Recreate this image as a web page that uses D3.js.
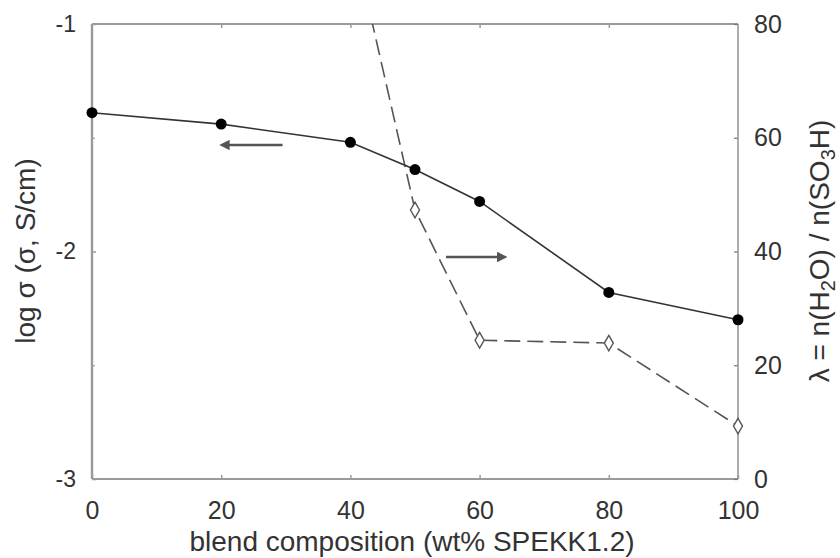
<!DOCTYPE html>
<html><head><meta charset="utf-8">
<script src="https://cdn.jsdelivr.net/npm/d3@7"></script>
<style>
html,body{margin:0;padding:0;background:#fff;}
text{font-family:"Liberation Sans",Arial,sans-serif;fill:#333;}
</style></head>
<body>
<script>
// Data
const composition = [0, 20, 40, 50, 60, 80, 100];
const logSigma = [-1.39, -1.44, -1.52, -1.64, -1.78, -2.18, -2.30];
const lambdaComposition = [40, 50, 60, 80, 100];
const lambdaValues = [97, 47.3, 24.4, 23.9, 9.3];
const xTicks = [0, 20, 40, 60, 80, 100];
const leftTicks = [-1, -2, -3];
const leftMinor = [-1.5, -2.5];
const rightTicks = [0, 20, 40, 60, 80];

const W = 840, H = 558;
const svg = d3.select("body").append("svg").attr("width", W).attr("height", H);

const x = d3.scaleLinear().domain([0, 100]).range([92, 738]);
const yL = d3.scaleLinear().domain([-3, -1]).range([479, 24]);
const yR = d3.scaleLinear().domain([0, 80]).range([479, 24]);

svg.append("defs").append("clipPath").attr("id", "clip")
  .append("rect").attr("x", x(0)).attr("y", yL(-1)).attr("width", x(100) - x(0)).attr("height", yL(-3) - yL(-1));

const axisCol = "#9a9a9a";
// frame
svg.append("line").attr("x1", x(0)).attr("x2", x(100)).attr("y1", yL(-1)).attr("y2", yL(-1)).attr("stroke", axisCol).attr("stroke-width", 2.2);
svg.append("line").attr("x1", x(0)).attr("x2", x(100)).attr("y1", yL(-3)).attr("y2", yL(-3)).attr("stroke", axisCol).attr("stroke-width", 2.2);
svg.append("line").attr("x1", x(0)).attr("x2", x(0)).attr("y1", yL(-1)).attr("y2", yL(-3)).attr("stroke", axisCol).attr("stroke-width", 2.4);
svg.append("line").attr("x1", x(100)).attr("x2", x(100)).attr("y1", yL(-1)).attr("y2", yL(-3)).attr("stroke", "#777").attr("stroke-width", 1.2);

// axes with d3 (inward ticks)
const fs = "25px";
const gB = svg.append("g").attr("transform", `translate(0,${yL(-3)})`)
  .call(d3.axisBottom(x).tickValues(xTicks).tickSize(-4).tickPadding(22).tickFormat(d3.format("d")));
gB.select(".domain").remove();
gB.selectAll("line").attr("stroke", axisCol).attr("stroke-width", 1.5);
gB.selectAll("text").style("font-size", fs).attr("fill", "#333");

const gT = svg.append("g").attr("transform", `translate(0,${yL(-1)})`)
  .call(d3.axisTop(x).tickValues(xTicks.slice(1, 5)).tickSize(-4).tickFormat(""));
gT.select(".domain").remove();
gT.selectAll("line").attr("stroke", axisCol).attr("stroke-width", 1.5);

const gL = svg.append("g").attr("transform", `translate(${x(0)},0)`)
  .call(d3.axisLeft(yL).tickValues(leftTicks).tickSize(-4).tickPadding(16).tickFormat(d => d3.format("d")(d).replace("−", "-")));
gL.select(".domain").remove();
gL.selectAll("line").attr("stroke", axisCol).attr("stroke-width", 1.5);
gL.selectAll("text").style("font-size", "23px").attr("fill", "#333");
const gLm = svg.append("g").attr("transform", `translate(${x(0)},0)`)
  .call(d3.axisLeft(yL).tickValues(leftMinor).tickSize(-3).tickFormat(""));
gLm.select(".domain").remove();
gLm.selectAll("line").attr("stroke", axisCol).attr("stroke-width", 1.2);

const gR = svg.append("g").attr("transform", `translate(${x(100)},0)`)
  .call(d3.axisRight(yR).tickValues(rightTicks).tickSize(-4).tickPadding(16).tickFormat(d3.format("d")));
gR.select(".domain").remove();
gR.selectAll("line").attr("stroke", "#777").attr("stroke-width", 1.2);
gR.selectAll("text").style("font-size", fs).attr("fill", "#333");

// lambda dashed series
const lam = lambdaComposition.map((c, i) => ({c, v: lambdaValues[i]}));
svg.append("path").datum(lam).attr("clip-path", "url(#clip)")
  .attr("fill", "none").attr("stroke", "#555").attr("stroke-width", 1.6)
  .attr("stroke-dasharray", "16,7")
  .attr("d", d3.line().x(d => x(d.c)).y(d => yR(d.v)));
svg.append("g").selectAll("path.dia").data(lam.filter(d => d.v <= yR.domain()[1])).join("path")
  .attr("transform", d => `translate(${x(d.c)},${yR(d.v)})`)
  .attr("d", d3.symbol(d3.symbolDiamond, 70))
  .attr("fill", "#fff").attr("stroke", "#555").attr("stroke-width", 1.4);

// log sigma solid series
const sig = composition.map((c, i) => ({c, v: logSigma[i]}));
svg.append("path").datum(sig)
  .attr("fill", "none").attr("stroke", "#333").attr("stroke-width", 1.6)
  .attr("d", d3.line().x(d => x(d.c)).y(d => yL(d.v)));
svg.selectAll("circle.pt").data(sig).join("circle")
  .attr("cx", d => x(d.c)).attr("cy", d => yL(d.v)).attr("r", 5.5).attr("fill", "#000");

// arrows
const defs = svg.select("defs");
defs.append("marker").attr("id", "ah").attr("viewBox", "0 0 10 10").attr("refX", 5).attr("refY", 5)
  .attr("markerWidth", 4).attr("markerHeight", 4).attr("orient", "auto-start-reverse")
  .append("path").attr("d", "M0,0 L10,5 L0,10 z").attr("fill", "#555");
svg.append("line").attr("x1", x(29.5)).attr("x2", x(20.5)).attr("y1", 145).attr("y2", 145)
  .attr("stroke", "#555").attr("stroke-width", 2.6).attr("marker-end", "url(#ah)");
svg.append("line").attr("x1", x(54.8)).attr("x2", x(63.5)).attr("y1", 257).attr("y2", 257)
  .attr("stroke", "#555").attr("stroke-width", 2.6).attr("marker-end", "url(#ah)");

// axis labels
svg.append("text").attr("x", 412).attr("y", 551).attr("text-anchor", "middle")
  .style("font-size", "28px").text("blend composition (wt% SPEKK1.2)");
svg.append("text").attr("transform", "translate(35,251) rotate(-90)").attr("text-anchor", "middle")
  .style("font-size", "28px").text("log σ (σ, S/cm)");
const rl = svg.append("text").attr("transform", "translate(829,251) rotate(-90)").attr("text-anchor", "middle")
  .style("font-size", "28px");
rl.append("tspan").text("λ = n(H");
rl.append("tspan").attr("dy", 6).style("font-size", "20px").text("2");
rl.append("tspan").attr("dy", -6).text("O) / n(SO");
rl.append("tspan").attr("dy", 6).style("font-size", "20px").text("3");
rl.append("tspan").attr("dy", -6).text("H)");
</script>
</body></html>
